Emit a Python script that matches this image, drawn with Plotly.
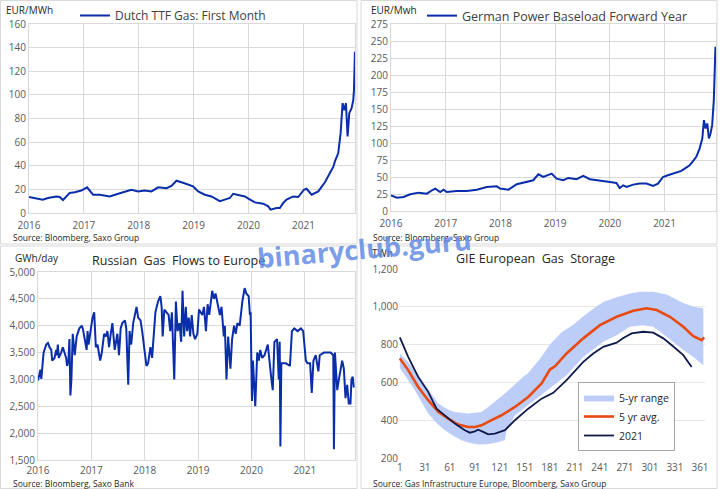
import plotly.graph_objects as go

# ---- données ----
years = [2016, 2017, 2018, 2019, 2020, 2021]

# Dutch TTF Gas: First Month (EUR/MWh), temps en années décimales
ttf_t = [2016.000, 2016.103, 2016.249, 2016.347, 2016.498, 2016.559, 2016.620, 2016.742, 2016.833, 2016.954,
         2017.058, 2017.167, 2017.289, 2017.471, 2017.593, 2017.714, 2017.866, 2017.988, 2018.109, 2018.231,
         2018.353, 2018.505, 2018.596, 2018.687, 2018.778, 2018.869, 2018.991, 2019.082, 2019.204, 2019.325,
         2019.477, 2019.568, 2019.660, 2019.720, 2019.812, 2019.933, 2020.012, 2020.116, 2020.267, 2020.359,
         2020.401, 2020.511, 2020.571, 2020.632, 2020.693, 2020.815, 2020.906, 2021.009, 2021.058, 2021.149,
         2021.271, 2021.331, 2021.392, 2021.483, 2021.544, 2021.574, 2021.635, 2021.678, 2021.714, 2021.745,
         2021.775, 2021.805, 2021.836, 2021.878, 2021.909, 2021.921, 2021.939]
ttf_v = [13.5, 12.7, 11.3, 12.7, 14.0, 13.5, 11.0, 17.0, 17.5, 19.0,
         21.7, 15.5, 15.5, 14.0, 15.5, 17.5, 19.7, 18.3, 19.0, 18.3,
         21.7, 21.0, 23.0, 27.3, 26.0, 24.5, 22.5, 18.3, 15.5, 14.0,
         10.0, 11.3, 12.7, 16.3, 15.5, 14.0, 11.8, 9.0, 7.9, 5.6,
         2.8, 4.2, 4.2, 8.5, 11.3, 14.0, 13.5, 19.7, 20.5, 15.5,
         18.3, 22.5, 26.0, 33.8, 39.0, 43.7, 50.7, 67.6, 93.0, 87.0,
         93.0, 64.8, 84.5, 88.7, 95.8, 104.0, 136.6]

# German Power Baseload Forward Year (EUR/Mwh)
pwr_t = [2016.000, 2016.109, 2016.231, 2016.353, 2016.505, 2016.657, 2016.748, 2016.809, 2016.900, 2016.960,
         2017.020, 2017.200, 2017.386, 2017.568, 2017.750, 2017.933, 2017.994, 2018.146, 2018.298, 2018.480,
         2018.600, 2018.693, 2018.784, 2018.936, 2019.027, 2019.149, 2019.240, 2019.392, 2019.514, 2019.635,
         2019.818, 2020.000, 2020.120, 2020.180, 2020.243, 2020.304, 2020.426, 2020.547, 2020.669, 2020.790,
         2020.880, 2020.970, 2021.060, 2021.185, 2021.307, 2021.368, 2021.459, 2021.520, 2021.580, 2021.640,
         2021.690, 2021.720, 2021.750, 2021.780, 2021.810, 2021.840, 2021.870, 2021.900, 2021.930]
pwr_v = [23.0, 19.6, 20.6, 24.6, 27.0, 25.5, 30.5, 33.0, 28.0, 31.4,
         28.0, 29.5, 29.5, 31.4, 35.4, 36.3, 33.0, 31.4, 39.3, 42.7,
         45.2, 54.0, 50.0, 55.0, 47.6, 45.2, 48.6, 46.7, 51.6, 46.7,
         45.2, 42.7, 41.3, 33.9, 37.8, 35.4, 38.8, 40.3, 40.3, 36.8,
         40.3, 50.0, 52.5, 56.0, 59.0, 62.4, 67.3, 73.2, 79.6, 91.8,
         106.6, 133.6, 121.3, 128.7, 106.6, 114.0, 126.2, 163.0, 241.6]

# Russian Gas Flows to Europe (GWh/day)
ru_t = [2016.000, 2016.031, 2016.045, 2016.062, 2016.105, 2016.155, 2016.186, 2016.217, 2016.248, 2016.266,
        2016.310, 2016.341, 2016.353, 2016.372, 2016.390, 2016.434, 2016.465, 2016.496, 2016.527, 2016.545,
        2016.570, 2016.589, 2016.607, 2016.626, 2016.651, 2016.688, 2016.725, 2016.774, 2016.824, 2016.849,
        2016.880, 2016.911, 2016.929, 2016.948, 2017.022, 2017.053, 2017.084, 2017.115, 2017.165, 2017.196,
        2017.239, 2017.270, 2017.301, 2017.332, 2017.363, 2017.394, 2017.437, 2017.487, 2017.518, 2017.549,
        2017.580, 2017.629, 2017.654, 2017.691, 2017.716, 2017.747, 2017.784, 2017.815, 2017.846, 2017.877,
        2017.921, 2017.952, 2017.995, 2018.032, 2018.063, 2018.107, 2018.138, 2018.169, 2018.200, 2018.249,
        2018.292, 2018.317, 2018.336, 2018.367, 2018.416, 2018.447, 2018.478, 2018.509, 2018.553, 2018.584,
        2018.615, 2018.652, 2018.683, 2018.708, 2018.739, 2018.770, 2018.794, 2018.825, 2018.850, 2018.881,
        2018.912, 2018.943, 2018.986, 2019.017, 2019.048, 2019.079, 2019.110, 2019.147, 2019.178, 2019.209,
        2019.265, 2019.296, 2019.327, 2019.377, 2019.408, 2019.439, 2019.482, 2019.501, 2019.532, 2019.563,
        2019.606, 2019.637, 2019.674, 2019.705, 2019.736, 2019.779, 2019.829, 2019.872, 2019.903, 2019.947,
        2019.971, 2019.984, 2020.009, 2020.027, 2020.046, 2020.071, 2020.108, 2020.139, 2020.164, 2020.201,
        2020.244, 2020.306, 2020.368, 2020.399, 2020.430, 2020.480, 2020.511, 2020.529, 2020.542, 2020.560,
        2020.603, 2020.647, 2020.721, 2020.758, 2020.802, 2020.864, 2020.926, 2020.969, 2021.019, 2021.050,
        2021.099, 2021.130, 2021.161, 2021.204, 2021.254, 2021.279, 2021.359, 2021.483, 2021.533, 2021.545,
        2021.564, 2021.607, 2021.638, 2021.700, 2021.731, 2021.762, 2021.793, 2021.824, 2021.855, 2021.874,
        2021.898, 2021.917]
ru_v = [2980, 3160, 3180, 3010, 3500, 3650, 3680, 3600, 3550, 3350,
        3400, 3550, 3450, 3650, 3400, 3500, 3600, 3500, 3400, 3250,
        3350, 3750, 2700, 3000, 3850, 3450, 3800, 3950, 4000, 3900,
        3750, 3550, 3900, 3650, 4150, 4250, 3600, 3650, 3350, 3500,
        3850, 3800, 3900, 3600, 3850, 4050, 3550, 3850, 3450, 3950,
        4050, 4100, 3950, 2900, 3900, 3650, 4050, 4200, 4350, 4150,
        4100, 3900, 3500, 3250, 3300, 3600, 3400, 3850, 4250, 4450,
        4550, 4350, 3800, 4300, 4250, 4200, 3900, 4250, 3000, 4450,
        3900, 4050, 3700, 4650, 3800, 4350, 3900, 4150, 3800, 4200,
        3850, 3750, 3850, 4300, 4250, 4200, 4350, 3900, 4400, 4200,
        4650, 4500, 4600, 4350, 4200, 4350, 3800, 4000, 3000, 3800,
        3200, 3750, 4000, 3850, 4050, 4000, 4450, 4700, 4600, 4550,
        4200, 4250, 2600, 3350, 3000, 2500, 3500, 3350, 3550, 3400,
        3450, 3650, 3050, 2800, 3700, 3750, 3000, 3700, 1750, 3300,
        3300, 3300, 3250, 3900, 3950, 3900, 3950, 3900, 3350, 3300,
        3300, 2750, 3350, 3450, 3150, 3450, 3500, 3500, 3450, 1700,
        3500, 2800, 3000, 3350, 3200, 2650, 2900, 2550, 2550, 3000,
        3050, 2850]

# GIE European Gas Storage (TWh), jour de l'année
days_ticks = [1, 31, 61, 91, 121, 151, 181, 211, 241, 271, 301, 331, 361]
rng_lo_d = [1, 10, 19, 35, 45, 55, 65, 75, 85, 95, 105, 115, 127, 129, 139, 155, 171, 187, 201, 221,
            245, 261, 277, 293, 305, 321, 341, 353, 365]
rng_lo_v = [678, 620, 559, 435, 385, 347, 318, 294, 280, 272, 273, 279, 294, 347, 425, 480, 535, 590, 638, 735,
            815, 850, 894, 903, 894, 841, 771, 735, 691]
rng_hi_d = [1, 10, 19, 35, 47, 59, 67, 83, 99, 107, 121, 127, 149, 155, 170, 181, 195, 209, 221, 233,
            245, 261, 277, 289, 305, 321, 341, 353, 365]
rng_hi_v = [753, 712, 665, 567, 488, 455, 444, 435, 444, 470, 520, 541, 630, 650, 730, 800, 865, 905, 950, 990,
            1025, 1050, 1070, 1080, 1080, 1065, 1020, 1000, 992]
avg_d = [1, 11, 23, 35, 47, 59, 71, 83, 91, 99, 111, 123, 139, 155, 171, 181, 187, 201, 221, 241,
         261, 281, 297, 309, 325, 341, 353, 363, 366]
avg_v = [727, 665, 576, 506, 444, 408, 377, 364, 364, 373, 400, 426, 470, 523, 594, 668, 685, 753, 833, 903,
         947, 979, 992, 983, 947, 894, 845, 824, 838]
y21_d = [1, 11, 23, 35, 45, 55, 67, 79, 85, 91, 95, 101, 107, 115, 121, 127, 139, 155, 171, 185,
         201, 221, 233, 245, 261, 269, 279, 293, 305, 317, 329, 341, 351]
y21_v = [838, 735, 629, 550, 461, 426, 382, 347, 334, 341, 350, 338, 325, 329, 338, 347, 400, 461, 514, 545,
         612, 709, 753, 788, 810, 835, 859, 868, 863, 833, 790, 744, 682]

BLEU = "#0A2DAA"
GRIS = "#595959"
GRILLE = "#D9D9D9"
W, H = 720, 489

def px_x(p):
    return p / W

def px_y(p):
    return 1 - p / H

fig = go.Figure()

fig.add_trace(go.Scatter(x=ttf_t, y=ttf_v, mode="lines", line=dict(color=BLEU, width=2),
                         name="Dutch TTF Gas: First Month", xaxis="x", yaxis="y", legend="legend2"))
fig.add_trace(go.Scatter(x=pwr_t, y=pwr_v, mode="lines", line=dict(color=BLEU, width=2),
                         name="German Power Baseload Forward Year", xaxis="x2", yaxis="y2", legend="legend3"))
fig.add_trace(go.Scatter(x=ru_t, y=ru_v, mode="lines", line=dict(color=BLEU, width=2),
                         showlegend=False, xaxis="x3", yaxis="y3"))
fig.add_trace(go.Scatter(x=rng_lo_d, y=rng_lo_v, mode="lines", line=dict(width=0, color="#BCCEF8"),
                         showlegend=False, xaxis="x4", yaxis="y4"))
fig.add_trace(go.Scatter(x=rng_hi_d, y=rng_hi_v, mode="lines", line=dict(width=0, color="#BCCEF8"),
                         fill="tonexty", fillcolor="#BCCEF8", name="5-yr range", xaxis="x4", yaxis="y4"))
fig.add_trace(go.Scatter(x=avg_d, y=avg_v, mode="lines", line=dict(color="#E84A11", width=2.6),
                         name="5 yr avg.", xaxis="x4", yaxis="y4"))
fig.add_trace(go.Scatter(x=y21_d, y=y21_v, mode="lines", line=dict(color="#101A4D", width=1.8),
                         name="2021", xaxis="x4", yaxis="y4"))

tickfont = dict(family="Open Sans", size=10, color=GRIS)

def axe_annee(dom, anchor, ecart=3):
    return dict(domain=dom, anchor=anchor, range=[2016, 2021.94], tickvals=years,
                ticktext=[str(a) for a in years], showgrid=True, gridcolor=GRILLE, gridwidth=1,
                showline=True, linecolor=GRILLE, mirror=True, ticks="", tickfont=tickfont,
                ticklabelstandoff=ecart, zeroline=False, fixedrange=True, automargin=False)

def axe_val(dom, anchor, rng, dtick, fmt=""):
    return dict(domain=dom, anchor=anchor, range=rng, dtick=dtick, tick0=rng[0], tickformat=fmt,
                showgrid=True, gridcolor=GRILLE, gridwidth=1, showline=True, linecolor=GRILLE,
                mirror=True, ticks="", tickfont=tickfont, zeroline=False, fixedrange=True,
                automargin=False)

fig.update_layout(
    width=W, height=H, margin=dict(l=0, r=0, t=0, b=0, autoexpand=False),
    paper_bgcolor="white", plot_bgcolor="white",
    font=dict(family="Open Sans", color="#262626"),
    xaxis=axe_annee([px_x(29), px_x(355)], "y"),
    yaxis=axe_val([px_y(213), px_y(24)], "x", [0, 160], 20),
    xaxis2=axe_annee([px_x(391), px_x(716)], "y2"),
    yaxis2=axe_val([px_y(211), px_y(24)], "x2", [0, 275], 25),
    xaxis3=axe_annee([px_x(38), px_x(355)], "y3", 1),
    yaxis3=axe_val([px_y(460), px_y(272)], "x3", [1500, 5000], 500, ","),
    xaxis4=dict(domain=[px_x(399), px_x(705)], anchor="y4", range=[0, 367], tickvals=days_ticks,
                showgrid=False, showline=False, ticks="", tickfont=tickfont, zeroline=False,
                ticklabelstandoff=2, fixedrange=True, automargin=False),
    yaxis4=dict(domain=[px_y(458), px_y(269)], anchor="x4", range=[200, 1200], dtick=200, tick0=200,
                tickformat=",", showgrid=True, gridcolor="#E6E6E6", showline=False, ticks="",
                tickfont=tickfont, zeroline=False, fixedrange=True, automargin=False),
    legend=dict(x=px_x(578), y=px_y(382), xanchor="left", yanchor="top", bgcolor="white",
                bordercolor="#A6A6A6", borderwidth=1, font=dict(size=10.5, color="#262626"),
                itemwidth=30, tracegroupgap=0, traceorder="normal"),
    legend2=dict(x=px_x(75), y=px_y(1), xanchor="left", yanchor="top", bgcolor="rgba(0,0,0,0)",
                 font=dict(size=12, color="#404040"), itemwidth=30),
    legend3=dict(x=px_x(422), y=px_y(1), xanchor="left", yanchor="top", bgcolor="rgba(0,0,0,0)",
                 font=dict(size=12.5, color="#404040"), itemwidth=30),
)

# cadres des quatre panneaux
for x0, y0, x1, y1 in [(0.5, 0.5, 357, 244), (361, 0.5, 717, 244), (0.5, 246, 357, 488.5), (361, 246, 717, 488.5)]:
    fig.add_shape(type="rect", xref="paper", yref="paper", x0=px_x(x0), x1=px_x(x1), y0=px_y(y1), y1=px_y(y0),
                  line=dict(color="#D9D9D9", width=1), layer="below")

notes = [
    ("EUR/MWh", 4, 10, 10, "#262626", "left"),
    ("EUR/Mwh", 369, 10, 10, "#262626", "left"),
    ("GWh/day", 13, 258, 10, "#262626", "left"),
    ("TWh", 370, 253, 10, "#262626", "left"),
    ("Russian  Gas  Flows to Europe", 178, 260, 12.5, "#262626", "center"),
    ("GIE European  Gas  Storage", 535, 258, 12.5, "#262626", "center"),
    ("Source: Bloomberg, Saxo Group", 11, 237, 8.5, "#262626", "left"),
    ("Source: Bloomberg, Saxo Group", 371, 237, 8.5, "#262626", "left"),
    ("Source: Bloomberg, Saxo Bank", 11, 483.5, 8.5, "#262626", "left"),
    ("Source: Gas Infrastructure Europe, Bloomberg, Saxo Group", 371, 483.5, 8.5, "#262626", "left"),
]
for txt, x, y, size, col, anc in notes:
    fig.add_annotation(text=txt.replace("  ", "\u00a0 "), x=px_x(x), y=px_y(y), xref="paper", yref="paper",
                       xanchor=anc, yanchor="middle", showarrow=False,
                       font=dict(size=size, color=col))

fig.add_annotation(text="<b>binaryclub.guru</b>", x=px_x(364), y=px_y(249), xref="paper", yref="paper",
                   showarrow=False, textangle=-5, font=dict(family="Open Sans", size=27, color="rgba(100,140,228,0.85)"))

# pas de marge autour du graphique dans la page
fig.write_html("out.html", config={"displayModeBar": False},
               post_script="document.body.style.margin='0px';")
